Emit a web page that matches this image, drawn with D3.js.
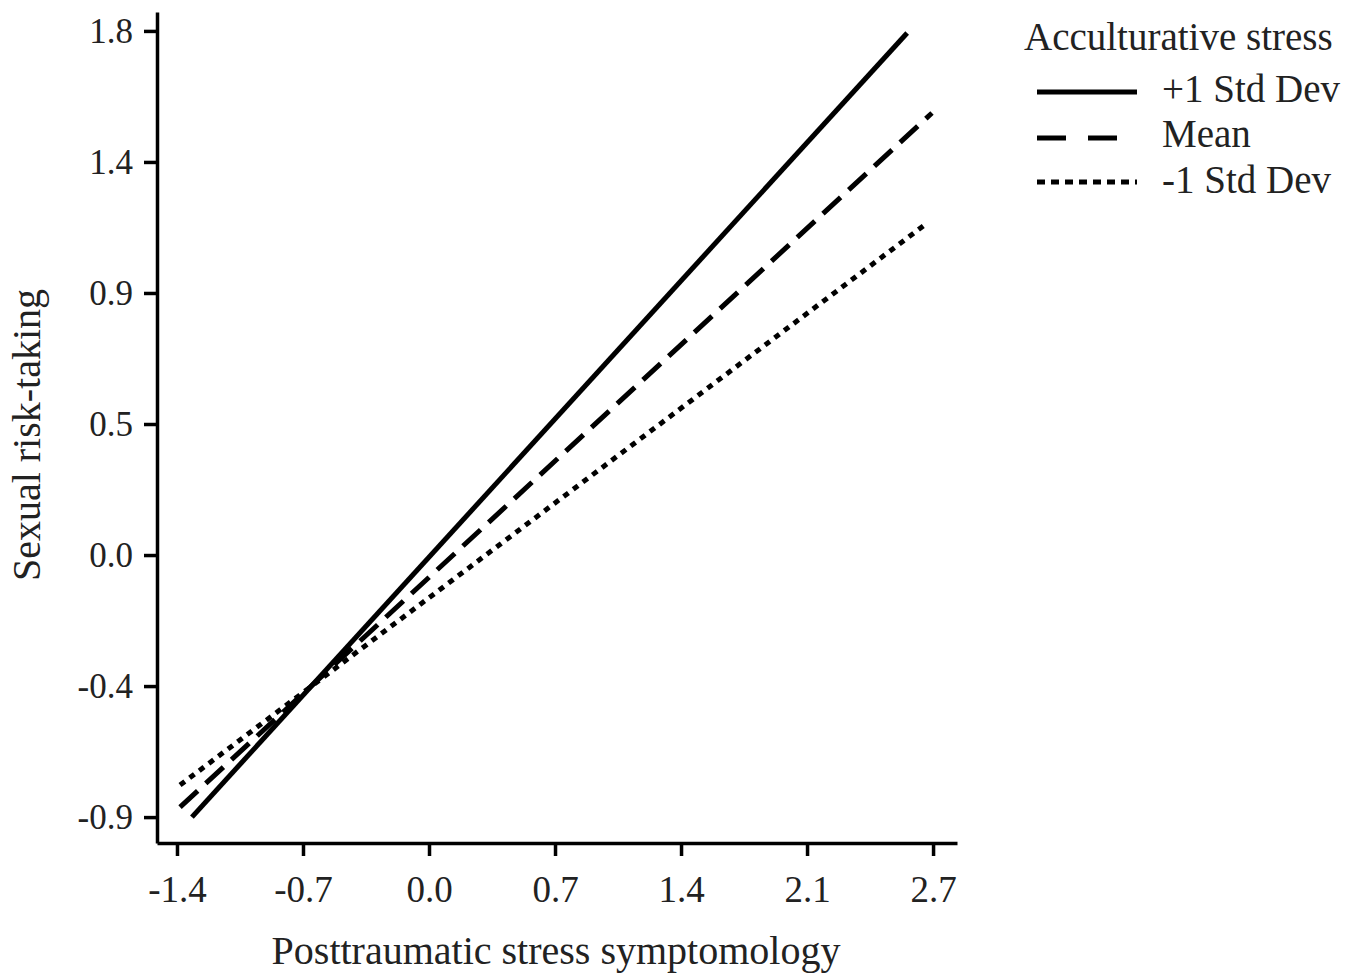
<!DOCTYPE html>
<html>
<head>
<meta charset="utf-8">
<script src="https://cdn.jsdelivr.net/npm/d3@7"></script>
<style>
  body { margin: 0; background: #fff; }
  text { font-family: "Liberation Serif", "Times New Roman", serif; fill: #222; }
</style>
</head>
<body>
<div id="chart"></div>
<script>
// series (moderator levels) and line end points
const seriesNames = ["+1 Std Dev", "Mean", "-1 Std Dev"];
const xStart = [-1.317, -1.383, -1.383];
const xEnd = [2.656, 2.794, 2.767];
const yStart = [-0.900, -0.866, -0.790];
const yEnd = [1.793, 1.518, 1.140];

const xTicks = [-1.4, -0.7, 0.0, 0.7, 1.4, 2.1, 2.8];
const xTickLabels = ["-1.4", "-0.7", "0.0", "0.7", "1.4", "2.1", "2.7"];
const yTicks = [-0.9, -0.45, 0, 0.45, 0.9, 1.35, 1.8];
const yTickLabels = ["-0.9", "-0.4", "0.0", "0.5", "0.9", "1.4", "1.8"];

const width = 1361;
const height = 977;
const plot = { left: 157, right: 957, top: 12, bottom: 843 };

const svg = d3.select('#chart')
  .append('svg')
  .attr('width', width)
  .attr('height', height);

const x = d3.scaleLinear()
  .domain([-1.511, 2.933])
  .range([plot.left, plot.right]);

const y = d3.scaleLinear()
  .domain([-0.989, 1.865])
  .range([plot.bottom, plot.top]);

// axes
const xAxis = d3.axisBottom(x)
  .tickValues(xTicks)
  .tickFormat((d, i) => xTickLabels[i])
  .tickSizeInner(13)
  .tickSizeOuter(0)
  .tickPadding(8);

const yAxis = d3.axisLeft(y)
  .tickValues(yTicks)
  .tickFormat((d, i) => yTickLabels[i])
  .tickSizeInner(13)
  .tickSizeOuter(0)
  .tickPadding(11);

const gx = svg.append('g')
  .attr('transform', `translate(0,${plot.bottom})`)
  .call(xAxis);

const gy = svg.append('g')
  .attr('transform', `translate(${plot.left},0)`)
  .call(yAxis);

[gx, gy].forEach(g => {
  g.select('.domain').attr('stroke', '#000').attr('stroke-width', 3.5);
  g.selectAll('.tick line').attr('stroke', '#000').attr('stroke-width', 3.5);
  g.selectAll('.tick text')
    .style('font-family', '"Liberation Serif", serif')
    .attr('fill', '#222');
});
gx.selectAll('.tick text').style('font-size', '37px').attr('dy', '38px');
gy.selectAll('.tick text').style('font-size', '35px').attr('dy', '0.33em');

// lines
const dashes = [null, '24,11', '6,6'];
seriesNames.forEach((name, i) => {
  svg.append('line')
    .attr('x1', x(xStart[i]))
    .attr('y1', y(yStart[i]))
    .attr('x2', x(xEnd[i]))
    .attr('y2', y(yEnd[i]))
    .attr('stroke', '#000')
    .attr('stroke-width', 5)
    .attr('stroke-dasharray', dashes[i]);
});

// axis titles
svg.append('text')
  .attr('x', 556)
  .attr('y', 964)
  .attr('text-anchor', 'middle')
  .style('font-size', '40px')
  .text('Posttraumatic stress symptomology');

svg.append('text')
  .attr('transform', 'translate(40,435) rotate(-90)')
  .attr('text-anchor', 'middle')
  .style('font-size', '40px')
  .text('Sexual risk-taking');

// legend
const legendLen = [100, 80, 100];
const legendDashes = [null, '29,22', '8,6'];
const legendRowY = [92, 138, 182];
const legendTextY = [102, 147, 193];
const legend = svg.append('g');
legend.append('text')
  .attr('x', 1024)
  .attr('y', 50)
  .style('font-size', '39px')
  .text('Acculturative stress');

seriesNames.forEach((name, i) => {
  legend.append('line')
    .attr('x1', 1037)
    .attr('x2', 1037 + legendLen[i])
    .attr('y1', legendRowY[i])
    .attr('y2', legendRowY[i])
    .attr('stroke', '#000')
    .attr('stroke-width', 5)
    .attr('stroke-dasharray', legendDashes[i]);
  legend.append('text')
    .attr('x', 1162)
    .attr('y', legendTextY[i])
    .style('font-size', '39px')
    .text(name);
});
</script>
</body>
</html>
